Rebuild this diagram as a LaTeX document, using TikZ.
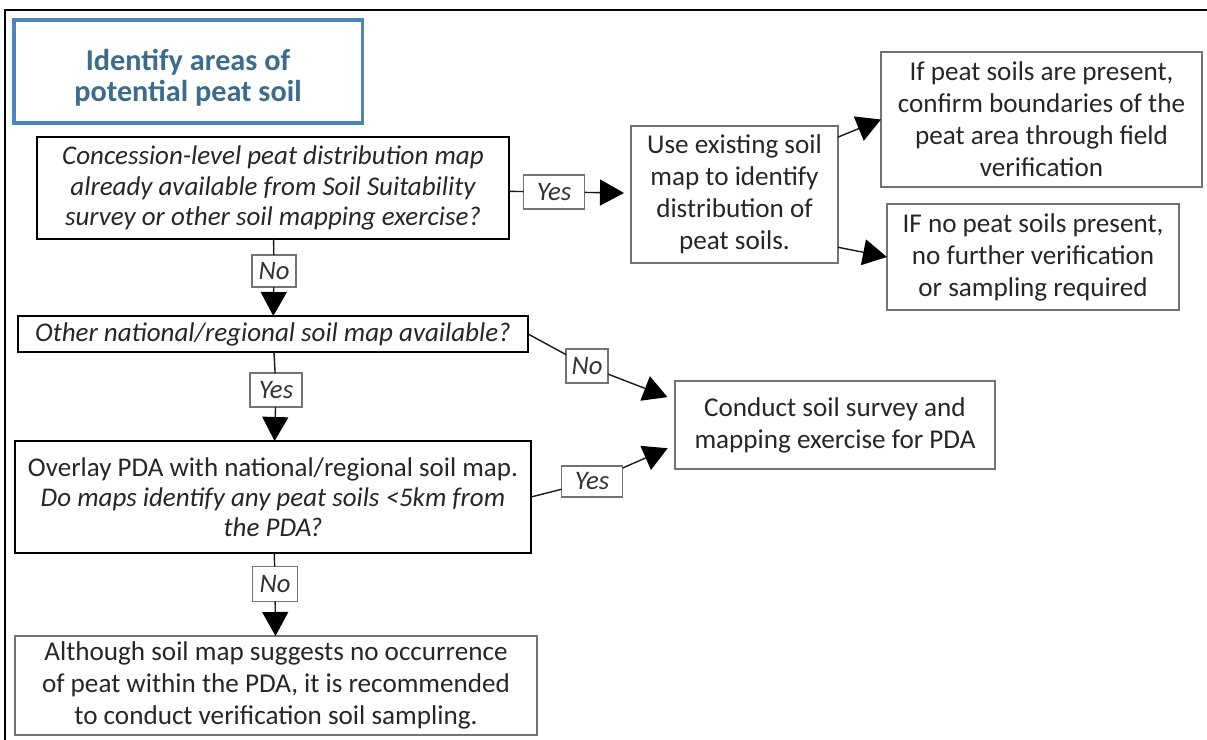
\documentclass[tikz,border=0pt]{standalone}
\usepackage{fontspec}
\setmainfont{Carlito}
\usetikzlibrary{arrows.meta}
\definecolor{titleblue}{HTML}{4A86BA}
\definecolor{titletext}{HTML}{3B6C8C}
\begin{document}
\begin{tikzpicture}[x=0.025cm, y=-0.025cm,
 question/.style={draw=black, line width=2pt, align=center, inner sep=0pt, outer sep=0pt, font=\fontsize{19.2}{21.5}\selectfont\itshape, text=black!85},
 result/.style={draw=black!55, line width=1.4pt, align=center, inner sep=0pt, outer sep=0pt, font=\fontsize{19.3}{22.8}\selectfont, text=black!85},
 answer/.style={draw=black!55, line width=1.2pt, fill=white, inner sep=0pt, outer sep=0pt, font=\fontsize{19}{20}\selectfont\itshape, text=black!80},
 link/.style={draw=black!90, line width=1pt},
 flow/.style={link, -{Triangle[length=0.6cm, width=0.65cm, color=black]}}]
\useasboundingbox (0,0) rectangle (1207,740);
\draw[line width=1.5pt] (5,740) -- (5,10) -- (1207,10);
\node[draw=titleblue, line width=2.2pt, align=center, inner sep=0pt, minimum width=8.7cm, minimum height=2.575cm, font=\fontsize{21.5}{21.5}\selectfont\bfseries, text=titletext] (title) at (188,71.5) {\rule{0pt}{24pt}Identify areas of\\potential peat soil};
\node[question, minimum width=11.8cm, minimum height=2.55cm] (q1) at (273,188) {Concession-level peat distribution map\\already available from Soil Suitability\\survey or other soil mapping exercise?};
\node[question, minimum width=12.75cm, minimum height=0.9cm] (q2) at (273,334) {Other national/regional soil  map available?};
\node[question, minimum width=12.9cm, minimum height=2.8cm] (q3) at (273,497) {\upshape Overlay PDA with national/regional soil map.\\Do maps identify any peat soils <5km from\\the PDA?};
\node[result, minimum width=13.025cm, minimum height=2.475cm] (final) at (276,685.5) {Although soil map suggests no occurrence\\of peat within the PDA, it is recommended\\to conduct verification soil sampling.};
\node[result, minimum width=5.175cm, minimum height=3.425cm] (use) at (734.5,194.5) {Use existing soil\\map to identify\\distribution of\\peat soils.};
\node[result, minimum width=8.025cm, minimum height=3.375cm] (present) at (1041.5,119.5) {If peat soils are present,\\confirm boundaries of the\\peat area through field\\verification};
\node[result, minimum width=7.3cm, minimum height=2.65cm] (nopeat) at (1033,257) {IF no peat soils present,\\no further verification\\or sampling required};
\node[result, minimum width=8cm, minimum height=2.2cm] (conduct) at (835,425) {Conduct soil survey and\\mapping exercise for PDA};
\node[answer, minimum width=1.525cm, minimum height=0.85cm] (yes1) at (554,192) {Yes};
\node[answer, minimum width=1.1cm, minimum height=0.8cm] (no1) at (274,271) {No};
\node[answer, minimum width=1.3cm, minimum height=0.85cm] (yes2) at (276,390) {Yes};
\node[answer, minimum width=1.125cm, minimum height=0.875cm] (no3) at (275,584) {No};
\node[answer, minimum width=1.05cm, minimum height=0.85cm] (no2) at (587,366) {No};
\node[answer, minimum width=1.525cm, minimum height=0.775cm] (yes3) at (592,481.5) {Yes};
\draw[link] (q1) -- (yes1);
\draw[flow, shorten >=0.175cm] (yes1) -- (use);
\draw[flow] (use.29) -- (present.west);
\draw[flow] (use.-27) -- (nopeat.west);
\draw[link] (q1) -- (no1);
\draw[flow] (no1) -- (q2);
\draw[link] (q2) -- (yes2);
\draw[flow] (yes2) -- (q3);
\draw[link] (q3) -- (no3);
\draw[flow] (no3) -- (final);
\draw[link] (q2.east) -- (no2);
\draw[flow, shorten >=0.2cm] (no2) -- ([yshift=0.625cm]conduct.west);
\draw[link] (q3.east) -- (yes3);
\draw[flow, shorten >=0.2cm] (yes3) -- ([yshift=-0.5cm]conduct.west);
\end{tikzpicture}
\end{document}
